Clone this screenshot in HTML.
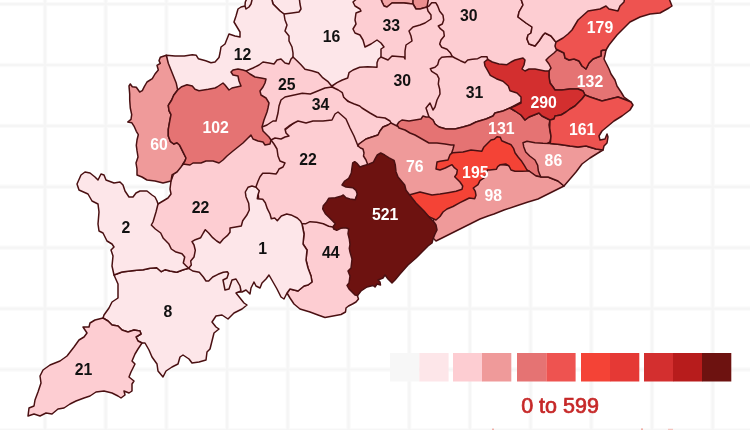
<!DOCTYPE html>
<html lang="en"><head><meta charset="utf-8"><title>Odisha district map</title>
<style>html,body{margin:0;padding:0;background:#fff}body{width:750px;height:430px;overflow:hidden;position:relative;font-family:"Liberation Sans",sans-serif}svg{display:block}.d{stroke:#4a1012;stroke-width:1.5;stroke-linejoin:round}.n{font-family:"Liberation Sans",sans-serif;font-weight:700;font-size:15.8px;text-anchor:middle}.k{fill:#111}.w{fill:#fff}.g{stroke:#fafafa;stroke-width:4.4}.h{stroke:#f5f5f5;stroke-width:2.2}.lg{font-family:"Liberation Sans",sans-serif;font-weight:400;font-size:21.5px;fill:#c62828;stroke:#c62828;stroke-width:0.7;text-anchor:middle}</style></head><body>
<svg width="750" height="430" viewBox="0 0 750 430">
<rect width="750" height="430" fill="#fff"/>
<g><line class="g" x1="45.0" y1="0" x2="45.0" y2="430"/><line class="g" x1="105.7" y1="0" x2="105.7" y2="430"/><line class="g" x1="166.4" y1="0" x2="166.4" y2="430"/><line class="g" x1="227.1" y1="0" x2="227.1" y2="430"/><line class="g" x1="287.8" y1="0" x2="287.8" y2="430"/><line class="g" x1="348.5" y1="0" x2="348.5" y2="430"/><line class="g" x1="409.2" y1="0" x2="409.2" y2="430"/><line class="g" x1="469.9" y1="0" x2="469.9" y2="430"/><line class="g" x1="530.6" y1="0" x2="530.6" y2="430"/><line class="g" x1="591.3" y1="0" x2="591.3" y2="430"/><line class="g" x1="652.0" y1="0" x2="652.0" y2="430"/><line class="g" x1="712.7" y1="0" x2="712.7" y2="430"/><line class="g" x1="0" y1="4.1" x2="750" y2="4.1"/><line class="g" x1="0" y1="65.0" x2="750" y2="65.0"/><line class="g" x1="0" y1="125.9" x2="750" y2="125.9"/><line class="g" x1="0" y1="186.8" x2="750" y2="186.8"/><line class="g" x1="0" y1="247.7" x2="750" y2="247.7"/><line class="g" x1="0" y1="308.6" x2="750" y2="308.6"/><line class="g" x1="0" y1="369.5" x2="750" y2="369.5"/><line class="g" x1="0" y1="430.4" x2="750" y2="430.4"/><line class="h" x1="45.0" y1="0" x2="45.0" y2="430"/><line class="h" x1="105.7" y1="0" x2="105.7" y2="430"/><line class="h" x1="166.4" y1="0" x2="166.4" y2="430"/><line class="h" x1="227.1" y1="0" x2="227.1" y2="430"/><line class="h" x1="287.8" y1="0" x2="287.8" y2="430"/><line class="h" x1="348.5" y1="0" x2="348.5" y2="430"/><line class="h" x1="409.2" y1="0" x2="409.2" y2="430"/><line class="h" x1="469.9" y1="0" x2="469.9" y2="430"/><line class="h" x1="530.6" y1="0" x2="530.6" y2="430"/><line class="h" x1="591.3" y1="0" x2="591.3" y2="430"/><line class="h" x1="652.0" y1="0" x2="652.0" y2="430"/><line class="h" x1="712.7" y1="0" x2="712.7" y2="430"/><line class="h" x1="0" y1="4.1" x2="750" y2="4.1"/><line class="h" x1="0" y1="65.0" x2="750" y2="65.0"/><line class="h" x1="0" y1="125.9" x2="750" y2="125.9"/><line class="h" x1="0" y1="186.8" x2="750" y2="186.8"/><line class="h" x1="0" y1="247.7" x2="750" y2="247.7"/><line class="h" x1="0" y1="308.6" x2="750" y2="308.6"/><line class="h" x1="0" y1="369.5" x2="750" y2="369.5"/><line class="h" x1="0" y1="430.4" x2="750" y2="430.4"/></g>
<g>
<polygon class="d" fill="#fdcdd2" points="330,84 345,72 365,60 385,40 410,25 425,-4 452,-4 452,60 445,112 432,122 398,128 385,122 360,110 340,95"/>
<polygon class="d" fill="#fdcdd2" points="270,140 285,130 300,118 335,108 350,120 362,146 370,165 355,200 340,232 300,228 270,222 250,190 255,180 262,165 266,142"/>
<polygon class="d" fill="#fdcdd2" points="271,140 274,144 277,149 278,156 280,161 285,163 283,167 279,169 277.5,172 276,174 269.3,173.3 262.7,173.3 260,176.7 258,181.3 256,186.7 258,192 260,215 250,240 225,252 205,245 200,265 188,275 176,262 160,245 148,228 148,212 153,203 158,204 163,201 168,198 171,194 170,189 171,181 175,170 190,160 230,148 255,133 268,136"/>
<polygon class="d" fill="#fdcdd2" points="426,-4 427,7 429,6 431.7,2.7 435.7,2.7 437.7,6 439.7,11.3 443,15.3 443.7,20 442.3,24 438.3,26 440.3,28.7 443.7,31.3 444.3,36 441,40 439.7,44 441.7,47.3 447,49.3 450.3,52.7 452.3,56.5 455,66 485,68 510,72 530,76 549,76 556,60 560,48 556,42 555,41 551,36 545,33 543,35 539,41 535,46 529,44 527,39 528,35 531,33 532,27 526,23 518,17 519,12 523,5 520,-4"/>
<polygon class="d" fill="#fdcdd2" points="520,-4 523,5 519,12 518,17 526,23 532,27 531,33 528,35 527,39 529,44 535,46 539,41 543,35 545,33 551,36 555,41 556,42 575,45 610,20 630,-4"/>
<polygon class="d" fill="#fde6e9" points="332,86 337,82.7 342.3,80 347.7,78 349,72.7 353,70 359.7,67.3 367.7,66.7 377,67.3 377,62.7 378.3,59.3 381,57 395,50 395,10 385,-4 295,-4 280,-4 280,30 285,60 300,70 320,82"/>
<polygon class="d" fill="#f3a6a7" points="380,-4 382,2 384,6 387,7 392,3 404,3 413,4 414,-4"/>
<polygon class="d" fill="#ec8f90" points="413,-4 413,4 416,9 420,9 427,7 429,-4"/>
<polygon class="d" fill="#fdcdd2" points="360,-4 353,2 355,6 360,9 361,11 356,13 355,20 356,24 353,29 355,33 360,35 363,40 365,47 371,44 377,40 381,43 384,47 381,49 381,53 381,57 388,60 392,56 404,57 405,59 405,51 406,45 412,41 411,36 409,31 413,27 420,25 425,23 431,19 431,15 428,11 427,7 420,9 416,9 413,4 404,3 392,3 387,7 384,6 382,2 380,-4"/>
<polygon class="d" fill="#fde6e9" points="271,-4 273,4 276,7 280,11 284,14 292,13 299,12 301,9 300,4 299,-4"/>
<polygon class="d" fill="#fde6e9" points="166.3,55.3 175,56 184.3,56 192.3,54.7 196.3,55.3 198.3,58.7 205.7,60.7 211,62.7 215,62 219,57.5 220,53 221,47 225,44 227,39 229,34 235,36 240,37 240,32 237,27 234,22 236,16 238,9 241,7 245,6 245.3,2 248,-4 271,-4 273,4 276,7 280,11 284,14 285,20 287,25 285,31 289,36 289,41 292,47 293,53 293,57 290,70 260,75 250,80 240,92 200,95 180,95 170,90"/>
<polygon class="d" fill="#fdcdd2" points="246,71 253,68 259,65 263,62 269,63 274,64 277,60 281,59 285,63 289,64 291,59 293,57 297,60.7 301,64.7 305,69.3 311.7,70.7 318.3,72.7 322.3,77.3 327.7,81.3 332,86.5 335,95 300,110 285,125 265,135 255,120 255,90 245,80"/>
<polygon class="d" fill="#fdcdd2" points="262,127 267,125 273,121 276,121 278,113 279,106 281,100 285,97 293,95.3 302.3,93.3 310.3,94 318.3,90.7 325,88 332,87 338.3,90 342.3,92.7 343.7,97.3 347.7,101.3 354.3,104 359.7,106 362,108 370,113 377,117 385,118 390,121 391,123 388,125 383,127 380,131 378,135 366,139 359,144 358,146 354,136 350,128 346,119 338,112 335,114 332,120 323,121 313,121 306,123 298,121 294,123 289,126 285,129 286,133 289,136 285,137 281,139 275,138 271,140 262,135"/>
<polygon class="d" fill="#ef9a9a" points="358,146 359,144 366,139 378,135 380,131 383,127 388,125 391,123 397,126 410,128 440,140 456,145 462,165 466,192 440,200 412,200 400,185 390,162 385,168 372,168 367.5,164 366,160 363.5,156 364,153 363,149 360.5,148"/>
<polygon class="d" fill="#fdcdd2" points="452.3,56.5 447,56.7 441.7,57.3 439,60 437.7,64.7 435,67.3 430.3,68.7 431.7,71.3 437,74.7 439,78.7 438.3,84 439.7,89.3 440,94 437,100 435,107 433,110 430,103 426,108 427,111 429,117 433,120 435,124 439,127 446,129 455,129 463,127 470,125 476,122 486,119 493,116 495,113 503,111 510,108 525,100 510,80 492,68 487.7,59.3 487,56.7 481.7,56.7 477.7,58.7 472.3,59.3 467.7,60 465,62.7 460.3,60.7 455,58"/>
<polygon class="d" fill="#e57373" points="397,125 399,122 402,120 409,121 415,120 421,119 423,116 426,117 429,117 433,120 435,124 439,127 446,129 455,129 463,127 470,125 476,122 486,119 493,116 495,113 503,111 510,108 515,111 521,115 525,120 529,117 534,115 539,113 542,116 546,118 550,120 549,125 550,131 551,137 550,142 545,145 545,176 541,177 536,176 529,171 520,173 500,160 480,160 460,158 451,155 453,149 454,145 451,145 445,144 437,143 429,143 422,139 415,135 410,133 405,130 399,128"/>
<polygon class="d" fill="#ef9a9a" points="564,186 556,190 548,194 538,199 528,202 516,206 504,210 494,214 488,216 480,219 470,224 460,229 450,234 442,238 436,241 430,235 432,222 445,205 465,190 480,175 495,164 515,166 524,169 529,171 536,176 541,177 548,177 558,181"/>
<polygon class="d" fill="#f44336" points="437,162 440,161.3 448,160 450,154.7 452.7,152.7 463,152 471,150 481.7,151.3 483.7,147.3 487.7,143.3 491,140 494.3,139.3 497,136.7 500.3,137.3 501.7,140.7 506.3,142.7 511,144.7 513.7,148.7 515,152.7 518.3,157.3 521.7,161.3 524.3,165.3 527,170 528.5,171 521.7,171.3 515,171.3 511,170 509,166 505.7,164 500.3,164.7 497.7,166.7 496.3,169.3 489.7,170 487.3,170 486.7,174 484,178 480,180.7 478,184.7 473.3,188 475.3,191.3 476,195.3 474.7,198.7 469.3,198 465.3,200 460,202.7 453,206.5 447,209 443,212 440,216.5 436,220 425,215 405,195 409,195 420,192 432,195 440,194 448,192.7 456,191.3 462,189.3 462.7,186 460,182 454.7,176.7 456.7,174 457.3,170 454,167.3 452,164.7 445.3,168 440,170 436,169"/>
<polygon class="d" fill="#ef9a9a" points="523,142.7 523.7,146.7 525.7,152 529.7,156 535,160 537.7,165.3 538.3,170.7 540.3,176 541,177 548,177 558,181 564,186 570,179 576,172 582,164 590,158 598,153 603,150 596,149 586,146 578,147 570,146 560,144.5 550.3,143.5 543,143.3 535,142.7 527,141.3"/>
<polygon class="d" fill="#e57373" points="557,50 554,53 549,57 546,60 549,64 551,68 549,71 549,77 550,83 553,87 555,90 562,90 570,89 578,89 583,91 585,95 590,97 602,101 610,99 618,97 626,100 631,102 624,97 621,92 617,86 615,80 611,74 609,69 606,63 604,59 605,55 606,50 603,50 601,51 601,56 598,57 593,59 589,63 586,69 582,66 579,61 574,59 569,60 565,58 564,53 560,51"/>
<polygon class="d" fill="#d32f2f" points="484.3,62 487.7,59.3 492.3,62 499,64 507,64.7 511,62 515,60 519,59 523,58 525,60 524,65 522,69 525,71 529,69 535,69 540,70 545,71 549,71 549,77 550,83 553,87 555,90 562,90 570,89 578,89 583,91 585,95 582,99 579,102 575,106 570,109 566,112 561,115 555,116 554,119 550,120 546,118 542,116 539,113 534,115 529,117 525,120 521,115 515,111 510,108 515,106 521,103 521,97 517,93 510,90.7 508.3,86 503,81.3 496.3,78.7 490.3,75.3 487.7,70.7 485,66"/>
<polygon class="d" fill="#ee5350" points="585,95 590,97 602,101 610,99 618,97 626,100 631,102 633,105 630,110 622,116 614,121 608,126 602,131 599,136 600,140 605,139 607,134 608,137 607,143 604,146 603,150 596,149 586,146 578,147 570,146 560,144.5 550.3,143.5 551,136 549.7,128 550,120 554,119 555,116 561,115 566,112 570,109 575,106 579,102 582,99"/>
<polygon class="d" fill="#ee5350" points="556,42 563,38 568,34 572,30 578,20 588,11 600,9 606,6 609,9 618,11 620,6 624,2 625,-4 668,-4 672,6 669,8 660,13 650,14 640,17 630,22 622,30 617,35 613,40 609,45 606,50 603,50 601,51 601,56 598,57 593,59 589,63 586,69 582,66 579,61 574,59 569,60 565,58 564,53 560,51 556,49 555,46"/>
<polygon class="d" fill="#fdcdd2" points="302,223.7 306,223.7 310,221.7 316.7,222.3 323.3,223.7 328.7,226.3 332.7,227 334,229 338,226 352,226 358,260 358,290 357.5,296 358.5,299 356,302 352.5,304 348.5,306 346,308 345.5,312 341,314.5 333,316 325,317.5 318,315 310,312 300,309 294,304 290,298 287,293 290,289 298,291 304,286 308,285 312,282 311,276 308,268 306,260 307,250 303,244 304,234"/>
<polygon class="d" fill="#6d1210" points="380.7,153 384.7,155 388.7,157.7 394,160.3 395.3,165 396,171.7 398,177 402,181.7 404.7,185 406,190.3 409.3,194.5 416,203 424,211 430,218 434,222 436,225 437,230 435,234 433,239 432,243 428,246 422,252 416,258 408,265 400,274 395,280 392,283 388,279 385,275 383,278 378,280 380,282 380.5,285 377,284 375,287 373,285.5 367,287 361,291 357.5,295.5 355,295 352,292 349,289 347,285.5 349,283 350,276 348,271 351,268 352,259 350,252 349.3,248.3 350,244.3 349.3,239 348,233.7 348.7,229 346,227.7 340.7,228.3 336.7,230.3 334,229 333.3,226.3 335.3,223.7 332.7,221 328.7,217 325.3,213.7 322.7,209 323.3,205.7 326.7,201.7 328.7,198.3 335.3,197.7 340.7,196.3 343.3,195 346,197.7 350,199 355.3,199.7 357.3,194.3 356,190.3 352.7,187.7 346,187 342,185 344.7,181 348.7,178.3 351.3,173 352,167.7 352.7,163 354.7,161.7 357.3,163.7 360,167 363.3,165.7 368.7,164.3 373.3,162.3 375.3,158.3 377.3,155"/>
<polygon class="d" fill="#fde6e9" points="200.7,237.7 203.3,233 205.3,229.7 208.7,233 212.7,237.7 216.7,241 220,243 223.3,239 227.3,235.7 230,232.3 230,228 241.3,226 242.7,220.7 246.7,215.3 249.3,210 248.7,203.3 246,196.7 245.3,192 248,187.3 252,186 256,187.3 259.3,190.7 258,194.7 257.3,198.7 262.7,199.3 265.3,202.7 267.3,208.7 270,214 271.3,218.7 274.7,218 277.3,220.7 281.3,216 286.7,214 292,215.3 297.3,218 300.7,221.3 302,224 304,234 303,244 307,250 306,260 308,268 311,276 312,282 308,285 304,286 298,291 290,289 287,293 284,299 281,297 277,289 273,282 269,275 266,279 262,283 260,288 256,286 254,282 251,288 250,294 246,290 242,292 236,292 225,295 205,290 190,275 188.7,268.3 191.3,265 190.7,261 194,257 195.3,250.3 194,245 192,241.7 195.3,239.7"/>
<polygon class="d" fill="#fde6e9" points="114,275 122,272 130,271 136.7,270.3 143.3,269.7 150,268.3 156.7,267.7 161.3,271.7 165.3,269.7 170,271 176.7,272.3 183.3,269.7 188.7,268.3 192.7,271 199.3,272.3 203.3,277 206,281 208.7,281 212.7,277 218,274.3 223.3,272.3 227.3,271.7 228.5,273.5 227,278 223,280 225,290 229,289 232,280 236,279 240,286 241,291 236,293 240,298 244,303 247,305 242,309 234,313 228,319 222,315 216,316 212,322 216,327 219,329 214,333 212,341 210,349 207,352 206,360 199,362 192,363 189,359 183,355 180,357 178,364 172,367 166,371 163,377 158,371 157,364 152,357 149,350 145,343 142,343 138,341 136,337 141,334 140,331 134,330 128,332 122,330 118,326 112,325 108,321 103,318 104,315 109,308 112,302 118,298 118,284"/>
<polygon class="d" fill="#fde6e9" points="81,175 85,172 90,173 95,177 98,180 101,174 104,175 106,180 114,183 120,182 123,185 125,191 129,197 133,197 136,193 140,191 147,191 152,195 155,197 157,201 158,204 156,212 153,222 151.3,225 155.3,229 160.7,233 163.3,238.3 168.7,243.7 171.3,249 175.3,251.7 182,253.7 184.7,257 183.3,263 186,265.7 188.7,268.3 183.3,269.7 176.7,272.3 170,271 165.3,269.7 161.3,271.7 156.7,267.7 150,268.3 143.3,269.7 136.7,270.3 130,271 122,272 114,275 112,266 113,256 111,250 114,247 112,244 107,241 103,233 99,231 98,224 99,212 98,204 92,201 88,194 79,190 77,184"/>
<polygon class="d" fill="#fdcdd2" points="103,318 95,320 90,323 89,327 83,327 87,333 84,337 79,340 74,347 67,356 60,361 50,365 43,370 40,376 41,383 38,392 35,400 34,406 29,408 28,416 34,414 40,416 46,413 52,414 58,409 64,408 70,404 76,401 84,398 90,396 96,392 104,391 112,393 118,396 121,398 125,395 124,391 129,393 132,391 132,384 134,381 129,377 131,372 135,364 132,361 135,354 138,349 142,343 138,341 136,337 141,334 140,331 134,330 128,332 122,330 118,326 112,325 108,321"/>
<polygon class="d" fill="#ef9a9a" points="166.3,55.3 168.3,63.3 171,70 173.7,76.7 176.3,83.3 177.7,90 173.7,95.3 171.7,100 168.3,105.3 169,110.7 171,114.7 169.7,121.3 168.3,129.3 168.3,136 170.3,141.3 173.7,144 177,142.7 179.7,145.3 181.7,149.3 183.7,153.3 186,158 185,161 183,164 181,167 177,172 172,175 171,181 163,183 155,181 147,180 142,177 137,175 137,169 136,163 138,157 137,150.7 136.3,145.3 137,140 138.3,134.7 136.3,131.3 134.3,126.7 131.7,122.7 127.7,122 131,119.3 131.7,114.7 130.3,108 129.7,100 129.7,94 129,86 130.3,84 132.3,86.7 136.3,87.3 139.7,92 142.3,90.7 144.3,86.7 147,82 152.3,78.7 155,74 158.3,70 157,65.3 160.3,63.3 159,60.7 160.3,57.3"/>
<polygon class="d" fill="#e57373" points="177.7,90 181.7,86.7 187,84.7 192.3,86 195,89.3 199,90.7 208.3,89.3 215,88 217,87 223,83 225,85 229,90 232,88 241,86 239,81 238,76 233,75 231,72 233,70 238,69 243,70 246,71 250,74 255,77 261,78 266,79 265,83 263,87 260,91 261,95 266,98 269,103 268,108 267,112 264,120 262,127 263,131 267,135 269,137 271,140 270,144 265,145 263,142 258,141 253,139 251,135 247,139 243,143 238,147 233,151 227,156 223,160 219,163 213,161 206,161 201,163 193,163 190,165 183,164 185,161 186,158 183.7,153.3 181.7,149.3 179.7,145.3 177,142.7 173.7,144 170.3,141.3 168.3,136 168.3,129.3 169.7,121.3 171,114.7 169,110.7 168.3,105.3 171.7,100 173.7,95.3"/>
<polyline class="d" fill="none" points="245,6 246,9 249,7 251,4 253,-4"/>
</g>
<g>
<text class="n k" x="242.5" y="60.1">12</text>
<text class="n k" x="331.6" y="42.4">16</text>
<text class="n k" x="391.3" y="30.6">33</text>
<text class="n k" x="468.7" y="20.6">30</text>
<text class="n w" x="600" y="33.4">179</text>
<text class="n k" x="286.7" y="90.2">25</text>
<text class="n k" x="320.5" y="110.4">34</text>
<text class="n k" x="402.2" y="85.9">30</text>
<text class="n k" x="474.5" y="97.9">31</text>
<text class="n w" x="543.7" y="108.2">290</text>
<text class="n w" x="590" y="86.6">132</text>
<text class="n w" x="215.6" y="132.6">102</text>
<text class="n w" x="159" y="150.1">60</text>
<text class="n k" x="308" y="164.6">22</text>
<text class="n w" x="501.3" y="133.9">131</text>
<text class="n w" x="582.2" y="134.9">161</text>
<text class="n w" x="414.8" y="171.9">76</text>
<text class="n w" x="475.3" y="178.4">195</text>
<text class="n w" x="553.4" y="166.1">86</text>
<text class="n w" x="493.2" y="201.1">98</text>
<text class="n w" x="385.2" y="219.9">521</text>
<text class="n k" x="200.6" y="212.7">22</text>
<text class="n k" x="126" y="233.4">2</text>
<text class="n k" x="262.6" y="253.5">1</text>
<text class="n k" x="330.8" y="258.4">44</text>
<text class="n k" x="167.8" y="316.6">8</text>
<text class="n k" x="83.6" y="375.2">21</text>
</g>
<g>
<rect x="390" y="353" width="29.3" height="28.5" fill="#f7f7f7"/>
<rect x="419.3" y="353" width="29.3" height="28.5" fill="#fde6e9"/>
<rect x="453" y="353" width="29.3" height="28.5" fill="#fdcdd2"/>
<rect x="482" y="353" width="29.3" height="28.5" fill="#ef9a9a"/>
<rect x="517" y="353" width="29.3" height="28.5" fill="#e57373"/>
<rect x="546.3" y="353" width="29.3" height="28.5" fill="#ee5350"/>
<rect x="581" y="353" width="29.3" height="28.5" fill="#f44336"/>
<rect x="610" y="353" width="29.3" height="28.5" fill="#e53935"/>
<rect x="644" y="353" width="29.3" height="28.5" fill="#d32f2f"/>
<rect x="673" y="353" width="29.3" height="28.5" fill="#b71c1c"/>
<rect x="702" y="353" width="29.3" height="28.5" fill="#6d1210"/>
<text class="lg" x="560" y="413.3">0 to 599</text>
<rect x="492" y="428.6" width="2" height="1.4" fill="#f0b0a8"/><rect x="641" y="428.4" width="2" height="1.6" fill="#f0b0a8"/><rect x="668" y="428.8" width="5" height="1.2" fill="#f4c4be"/>
</g>
</svg></body></html>
